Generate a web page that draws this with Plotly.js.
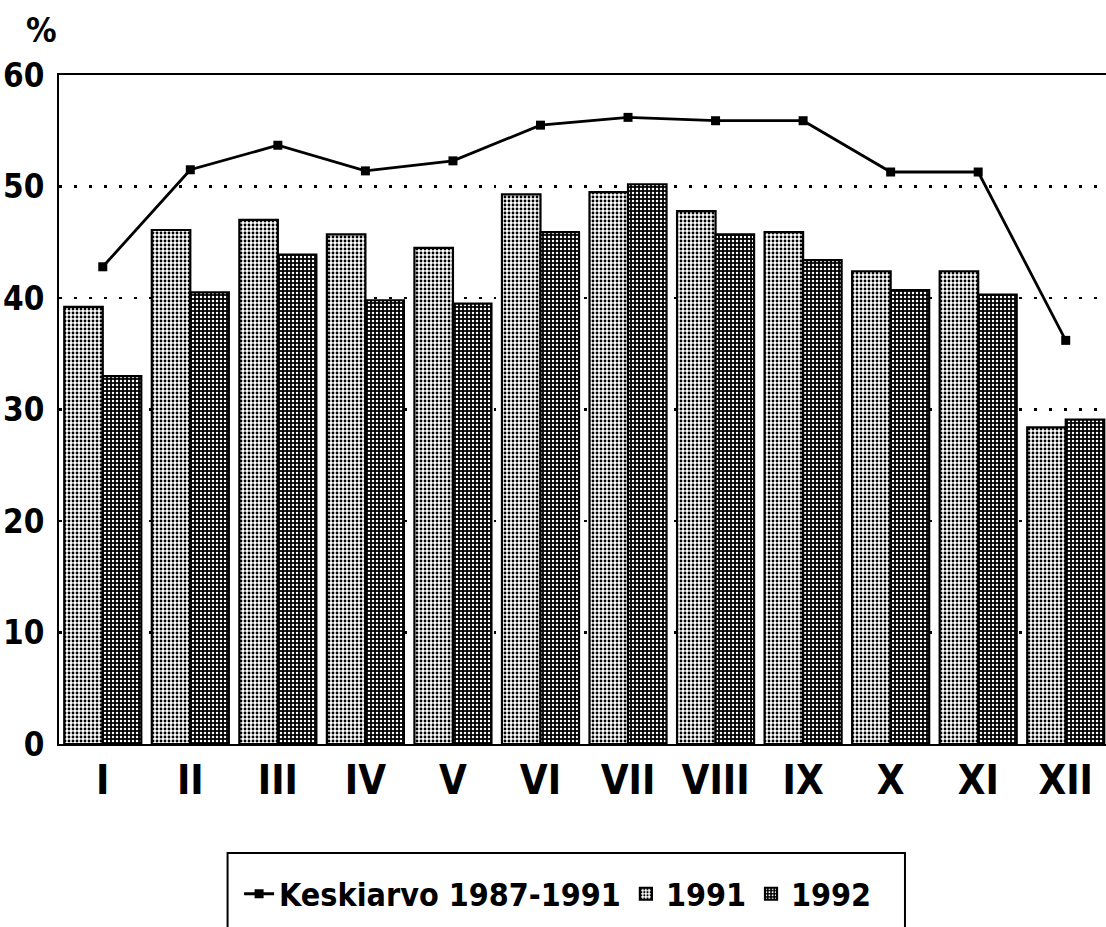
<!DOCTYPE html>
<html>
<head>
<meta charset="utf-8">
<script src="https://cdn.plot.ly/plotly-3.0.1.min.js"></script>
<style>
html,body{margin:0;padding:0;background:#fff;}
#chart{width:1106px;height:927px;}
</style>
</head>
<body>
<div id="chart"></div>
<script>
const months = ["I","II","III","IV","V","VI","VII","VIII","IX","X","XI","XII"];
const avg8791 = [42.8,51.5,53.7,51.4,52.3,55.5,56.2,55.9,55.9,51.3,51.3,36.2];
const v1991 = [39.2,46.1,47.0,45.7,44.5,49.3,49.5,47.8,45.9,42.4,42.4,28.4];
const v1992 = [33.0,40.5,43.9,39.8,39.5,45.9,50.2,45.7,43.4,40.7,40.3,29.1];
const yTicks = [0,10,20,30,40,50,60];
const labelAvg = "Keskiarvo 1987-1991";
const label1991 = "1991";
const label1992 = "1992";

const FONT = "'DejaVu Sans Condensed', 'Liberation Sans Narrow', 'Liberation Sans', sans-serif";

const traces = [
  {
    type: "scatter", mode: "lines+markers", name: labelAvg,
    x: months, y: avg8791,
    line: {color: "#000", width: 2.8},
    marker: {symbol: "square", size: 9, color: "#000"}
  },
  {
    type: "bar", name: label1991, x: months, y: v1991,
    marker: {
      color: "#fff",
      line: {color: "#000", width: 2.2},
      pattern: {shape: ".", fillmode: "replace", bgcolor: "#fff", fgcolor: "#000", size: 4, solidity: 0.4}
    }
  },
  {
    type: "bar", name: label1992, x: months, y: v1992,
    marker: {
      color: "#000",
      line: {color: "#000", width: 2.2},
      pattern: {shape: ".", fillmode: "replace", bgcolor: "#000", fgcolor: "#fff", size: 4, solidity: 0.3}
    }
  }
];

const layout = {
  width: 1106, height: 927,
  margin: {l: 59, r: 0, t: 75, b: 183},
  paper_bgcolor: "#fff", plot_bgcolor: "#fff",
  font: {family: FONT, color: "#000", weight: "bold"},
  barmode: "group", bargap: 0.12, bargroupgap: 0,
  showlegend: true,
  legend: {
    orientation: "h", x: 0.172, xanchor: "left", y: -0.183, yanchor: "top",
    font: {family: FONT, size: 32, color: "#000", weight: "bold"},
    bgcolor: "rgba(0,0,0,0)", borderwidth: 0, traceorder: "normal",
    itemwidth: 30
  },
  xaxis: {
    type: "category", range: [-0.5, 11.46],
    showline: true, mirror: true, linecolor: "#000", linewidth: 2,
    showgrid: false, ticks: "", zeroline: false,
    tickfont: {family: FONT, size: 40, color: "#000", weight: "bold"},
    ticklabelstandoff: 0
  },
  yaxis: {
    range: [0, 60], tickvals: yTicks, ticktext: yTicks.map(String),
    showline: true, linecolor: "#000", linewidth: 2,
    showgrid: true, gridcolor: "#000", gridwidth: 2.5, griddash: "2.5px,12.5px",
    zeroline: false, ticks: "",
    tickfont: {family: FONT, size: 33, color: "#000", weight: "bold"},
    ticklabelstandoff: 6
  },
  shapes: [
    {type: "rect", xref: "paper", yref: "paper", x0: 0.161, x1: 0.808, y0: -0.163, y1: -0.40,
     line: {color: "#000", width: 2}, fillcolor: "rgba(0,0,0,0)"}
  ],
  annotations: [
    {text: "%", xref: "paper", yref: "paper", x: -0.017, y: 1.067, xanchor: "center", yanchor: "middle",
     showarrow: false, font: {family: FONT, size: 34, color: "#000", weight: "bold"}}
  ]
};

Plotly.newPlot("chart", traces, layout, {displayModeBar: false, staticPlot: true});
</script>
</body>
</html>
